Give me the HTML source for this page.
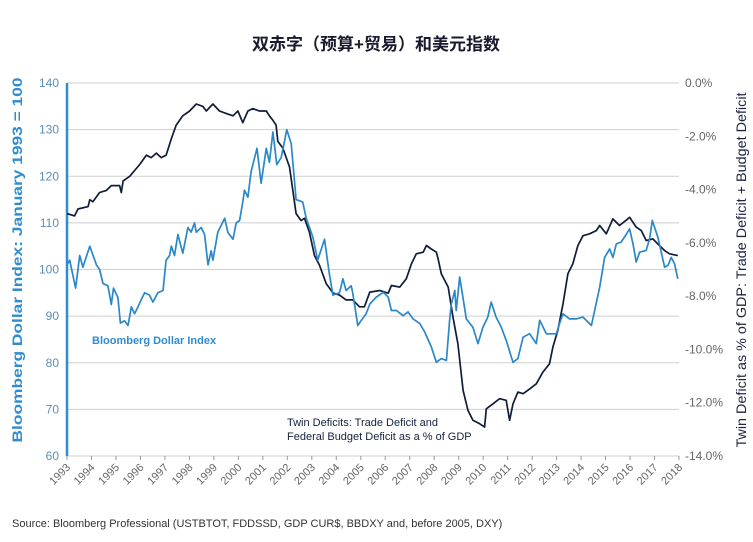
<!DOCTYPE html>
<html><head><meta charset="utf-8">
<style>
body{margin:0;background:#fff;}
svg{display:block;font-family:"Liberation Sans","Noto Sans CJK SC",sans-serif;}
</style></head>
<body>
<svg id="chart" width="753" height="542" viewBox="0 0 753 542">
<text x="376" y="50" text-anchor="middle" font-size="17" font-weight="bold" fill="#1a1a2e">双赤字（预算+贸易）和美元指数</text>
<g id="grid"></g>
<g id="xaxis"></g>
<g id="yleft"></g>
<g id="yright"></g>
<g id="series"></g>
<text transform="translate(22,260) rotate(-90)" text-anchor="middle" font-size="14" font-weight="bold" fill="#2f8ccf" textLength="365" lengthAdjust="spacingAndGlyphs">Bloomberg Dollar Index: January 1993 = 100</text>
<text transform="translate(746,270) rotate(-90)" text-anchor="middle" font-size="14" fill="#1d2440" textLength="355" lengthAdjust="spacingAndGlyphs">Twin Deficit as % of GDP: Trade Deficit + Budget Deficit</text>
<text x="92" y="344" font-size="11" font-weight="bold" fill="#2f8ccf">Bloomberg Dollar Index</text>
<text x="287" y="426" font-size="11" fill="#14213d">Twin Deficits: Trade Deficit and</text>
<text x="287" y="440" font-size="11" fill="#14213d">Federal Budget Deficit as a % of GDP</text>
<text x="12" y="527" font-size="11" fill="#333">Source: Bloomberg Professional (USTBTOT, FDDSSD, GDP CUR$, BBDXY and, before 2005, DXY)</text>
</svg>
<script>
const leftTicks=[140,130,120,110,100,90,80,70,60];
const rightTicks=[0,-2,-4,-6,-8,-10,-12,-14];
const rightTickLabels=["0.0%","-2.0%","-4.0%","-6.0%","-8.0%","-10.0%","-12.0%","-14.0%"];
const years=[1993,1994,1995,1996,1997,1998,1999,2000,2001,2002,2003,2004,2005,2006,2007,2008,2009,2010,2011,2012,2013,2014,2015,2016,2017,2018];
const dollarYears=[1993.0,1993.11,1993.35,1993.52,1993.65,1993.93,1994.2,1994.33,1994.47,1994.67,1994.81,1994.9,1995.08,1995.18,1995.35,1995.49,1995.63,1995.76,1995.9,1996.03,1996.17,1996.37,1996.51,1996.71,1996.92,1997.05,1997.19,1997.26,1997.39,1997.53,1997.73,1997.94,1998.07,1998.21,1998.28,1998.48,1998.62,1998.76,1998.89,1998.96,1999.16,1999.44,1999.57,1999.78,1999.91,2000.05,2000.18,2000.25,2000.39,2000.52,2000.76,2000.93,2001.14,2001.27,2001.41,2001.57,2001.75,2001.98,2002.16,2002.36,2002.63,2002.77,2003.04,2003.24,2003.52,2003.72,2003.86,2004.13,2004.27,2004.4,2004.61,2004.67,2004.88,2005.01,2005.22,2005.37,2005.64,2005.92,2006.12,2006.25,2006.46,2006.73,2006.93,2007.14,2007.41,2007.61,2007.88,2008.09,2008.29,2008.5,2008.63,2008.7,2008.84,2008.9,2009.04,2009.31,2009.58,2009.79,2009.99,2010.19,2010.33,2010.53,2010.74,2010.94,2011.22,2011.42,2011.63,2011.9,2012.17,2012.31,2012.58,2012.78,2012.99,2013.12,2013.26,2013.53,2013.8,2014.08,2014.42,2014.76,2014.96,2015.17,2015.3,2015.44,2015.64,2015.85,2015.98,2016.12,2016.25,2016.39,2016.66,2016.8,2016.91,2017.14,2017.41,2017.55,2017.68,2017.82,2017.95];
const dollarValues=[101,102,96,103,100.5,105,101,100,97,96.5,92.5,96,94,88.5,89,88,92,90.5,92,93.5,95,94.5,93,95,95.5,102,103,105,103,107.5,103.5,109,108,110,108,109,107.5,101,104,102,108,111,108,106.5,110,110.5,114.5,117,115.5,121,126,118.5,126,123,129.5,122.5,124,130,127,115,114.5,111,107,102,106.5,99,94.5,95,98,95.5,96.5,95,88,89,90.5,92.6,94.1,95.1,94.1,91.2,91.2,90.1,90.9,89.4,88.4,86.6,83.4,80.1,80.9,80.5,89.1,92.6,95.5,91.2,98.4,89.4,87.6,84.1,87.6,89.8,93.0,89.8,87.6,84.8,80.1,80.9,85.5,86.2,84.1,89.1,86.2,86.2,86.2,88.4,90.5,89.4,89.4,89.8,88.0,96.2,102.6,104.4,102.6,105.5,105.9,107.6,108.7,105.5,101.6,103.7,104.1,106.6,110.5,106.9,100.5,100.9,102.6,101.2,98.0];
const deficitYears=[1993.0,1993.31,1993.45,1993.86,1993.93,1994.06,1994.33,1994.61,1994.81,1995.15,1995.22,1995.29,1995.56,1995.97,1996.24,1996.44,1996.65,1996.85,1997.05,1997.26,1997.46,1997.73,1998.01,1998.28,1998.55,1998.69,1998.96,1999.23,1999.5,1999.78,1999.98,2000.18,2000.39,2000.59,2000.86,2001.14,2001.27,2001.41,2001.54,2001.61,2001.82,2002.09,2002.36,2002.56,2002.7,2002.9,2003.11,2003.31,2003.59,2003.86,2004.13,2004.4,2004.67,2004.95,2005.15,2005.37,2005.78,2006.12,2006.25,2006.59,2006.86,2007.07,2007.27,2007.55,2007.68,2007.88,2008.09,2008.16,2008.29,2008.57,2008.77,2008.97,2009.18,2009.38,2009.58,2009.86,2010.06,2010.13,2010.4,2010.67,2010.94,2011.08,2011.22,2011.42,2011.63,2011.9,2012.17,2012.44,2012.71,2012.85,2013.05,2013.26,2013.46,2013.66,2013.87,2014.08,2014.35,2014.62,2014.76,2015.03,2015.3,2015.57,2015.91,2015.98,2016.25,2016.46,2016.66,2016.93,2017.2,2017.41,2017.61,2017.95];
const deficitValues=[-4.9,-4.99,-4.73,-4.64,-4.38,-4.46,-4.11,-4.03,-3.85,-3.85,-4.11,-3.68,-3.5,-3.06,-2.71,-2.8,-2.63,-2.8,-2.71,-2.1,-1.58,-1.23,-1.05,-0.79,-0.88,-1.05,-0.79,-1.05,-1.14,-1.23,-1.05,-1.49,-1.05,-0.96,-1.05,-1.05,-1.23,-1.4,-1.58,-2.19,-2.45,-3.15,-4.9,-5.16,-5.08,-5.6,-6.48,-6.83,-7.53,-7.88,-7.96,-8.14,-8.14,-8.4,-8.4,-7.85,-7.79,-7.89,-7.6,-7.66,-7.35,-6.79,-6.41,-6.35,-6.1,-6.23,-6.35,-6.6,-7.16,-7.66,-8.79,-9.79,-11.54,-12.29,-12.66,-12.79,-12.91,-12.23,-12.04,-11.85,-11.91,-12.66,-12.04,-11.6,-11.66,-11.48,-11.29,-10.85,-10.54,-9.91,-9.29,-8.29,-7.16,-6.79,-6.1,-5.73,-5.66,-5.54,-5.35,-5.66,-5.1,-5.35,-5.1,-5.04,-5.41,-5.54,-5.91,-5.85,-6.1,-6.29,-6.41,-6.48];

const NS="http://www.w3.org/2000/svg";
const X0=67,X1=679,Y0=83,Y1=456;
const xS=y=>X0+(y-1993)/(2018-1993)*(X1-X0);
const yL=v=>Y0+(140-v)/80*(Y1-Y0);
const yR=p=>Y0+(0-p)/14*(Y1-Y0);
function mk(tag,attrs,parent){const e=document.createElementNS(NS,tag);for(const k in attrs)e.setAttribute(k,attrs[k]);parent.appendChild(e);return e;}
const grid=document.getElementById('grid'),xa=document.getElementById('xaxis'),yl=document.getElementById('yleft'),yr=document.getElementById('yright'),ser=document.getElementById('series');
leftTicks.forEach(v=>{
  const l=mk('line',{x1:X0,x2:X1,y1:yL(v),y2:yL(v),stroke:'#cfcfcf','stroke-width':1},grid);
  
  
  const t=mk('text',{x:X0-8,y:yL(v)+4,'text-anchor':'end','font-size':12,fill:'#5b8fb8'},yl);
  t.textContent=v;
  
  
});
rightTicks.forEach((p,i)=>{
  const t=mk('text',{x:X1+6,y:yR(p)+4,'font-size':12,fill:'#666'},yr);
  t.textContent=rightTickLabels[i];
  
  
});
const ax=mk('line',{x1:X0,x2:X0,y1:Y0,y2:Y1,stroke:'#2f8ccf','stroke-width':2.5},yl);


years.forEach(y=>{
  const x=xS(y);
  const tk=mk('line',{x1:x,x2:x,y1:Y1,y2:Y1+4,stroke:'#999','stroke-width':1},xa);
  
  
  const t=mk('text',{transform:`translate(${x+4},${Y1+12}) rotate(-45)`,'text-anchor':'end','font-size':11,fill:'#666'},xa);
  t.textContent=y;
  
  
});
function path(xs,vs,fy,color,name){
  const d=xs.map((y,i)=>(i?'L':'M')+xS(y).toFixed(1)+' '+fy(vs[i]).toFixed(1)).join(' ');
  const p=mk('path',{d:d,fill:'none',stroke:color,'stroke-width':1.7,'stroke-linejoin':'round'},ser);
  
  
}
path(deficitYears,deficitValues,yR,'#111c38','twin-deficit-line');
path(dollarYears,dollarValues,yL,'#2a88c8','dollar-index-line');
</script>
</body></html>
